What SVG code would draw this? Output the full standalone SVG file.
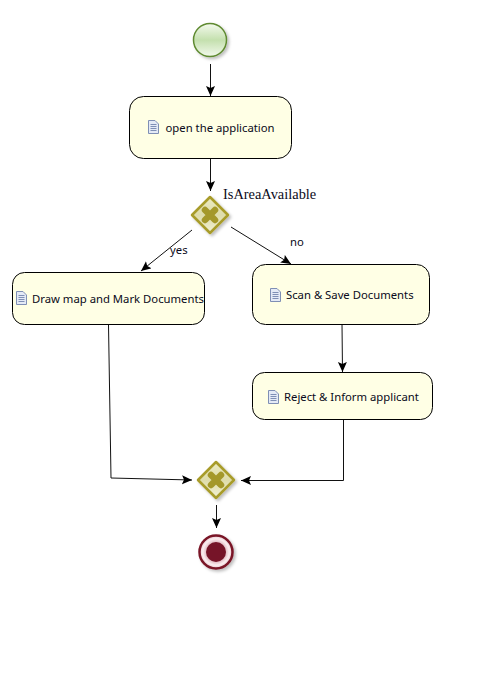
<svg xmlns="http://www.w3.org/2000/svg" width="479" height="677" viewBox="0 0 479 677">
<style>
.task{fill:#ffffe5;stroke:#000;stroke-width:1}
.lbl{font-family:"Noto Sans","Open Sans",sans-serif;font-size:11.300px;fill:#0a0a20}
.edge{fill:none;stroke:#111;stroke-width:1;marker-end:url(#arrow)}
.doc{fill:#e4eaf6;stroke:#7f8fb5;stroke-width:1}
.docl{stroke:#7f8fb5;stroke-width:1;fill:none}
.gw{stroke:#a89c2a;stroke-width:2.500;stroke-linejoin:round}
.x{stroke:#a4982a;stroke-width:6.500;stroke-linecap:round}
</style>
<defs>
<marker id="arrow" markerUnits="userSpaceOnUse" markerWidth="11" markerHeight="10" refX="10" refY="4.500" orient="auto"><path d="M0,0 L10,4.500 L0,9 L2,4.500 Z" fill="#000"/></marker>
<linearGradient id="startG" x1="0" y1="0" x2="0" y2="1"><stop offset="0" stop-color="#f4faee"/><stop offset="0.5" stop-color="#c4e0ae"/><stop offset="1" stop-color="#f2f9ec"/></linearGradient>
<radialGradient id="endG"><stop offset="0.5" stop-color="#d9a8b2"/><stop offset="0.8" stop-color="#fbeef0"/><stop offset="1" stop-color="#e6c6cc"/></radialGradient>
<linearGradient id="gwG" x1="0" y1="0" x2="0" y2="1"><stop offset="0" stop-color="#ecebc2"/><stop offset="0.5" stop-color="#dedcaa"/><stop offset="1" stop-color="#f2f1d2"/></linearGradient>
<filter id="sh" x="-30%" y="-30%" width="170%" height="170%"><feDropShadow dx="2" dy="2" stdDeviation="1.500" flood-color="#000" flood-opacity="0.250"/></filter>
<g id="docicon"><path class="doc" d="M0.500,0.500 H7 L10.500,4 V13.500 H0.500 Z"/><path class="docl" d="M2.500,4.500 H8.500 M2.500,6.500 H8.500 M2.500,8.500 H8.500 M2.500,10.500 H8.500"/></g>
</defs>
<rect width="479" height="677" fill="#fff"/>
<g id="connectors">
<path class="edge" d="M210.500,64 V96"/>
<path class="edge" d="M210.500,158 V191"/>
<path class="edge" d="M192,230 L141,271"/>
<path class="edge" d="M231,227 L291,264"/>
<path class="edge" d="M342,324 L342.500,372"/>
<path class="edge" d="M108.500,325 L111,478 L192,480"/>
<path class="edge" d="M343.500,420 V480.500 H241"/>
<path class="edge" d="M216.500,505 V528"/>
</g>
<g id="start"><circle cx="210" cy="40" r="16.500" fill="url(#startG)" stroke="#5f8a30" stroke-width="1.500" filter="url(#sh)"/></g>
<g id="task-open"><rect class="task" x="129.500" y="96.500" width="162" height="62" rx="14"/><use href="#docicon" x="148" y="120"/><text class="lbl" x="165.500" y="132">open the application</text></g>
<g id="gateway-split"><path class="gw" d="M210,197 L228,215 L210,233 L192,215 Z" fill="url(#gwG)" filter="url(#sh)"/><path class="x" d="M205,210 L215,220 M215,210 L205,220"/><text x="223" y="199" font-family="Liberation Serif,serif" font-size="14.400" fill="#0a0a20">IsAreaAvailable</text></g>
<text class="lbl" x="170" y="254">yes</text>
<text class="lbl" x="290" y="246">no</text>
<g id="task-draw"><rect class="task" x="12.500" y="272.500" width="192" height="52" rx="12"/><use href="#docicon" x="16" y="291"/><text class="lbl" x="32" y="303">Draw map and Mark Documents</text></g>
<g id="task-scan"><rect class="task" x="252.500" y="264.500" width="177" height="60" rx="13"/><use href="#docicon" x="270" y="288"/><text class="lbl" x="286" y="299">Scan &amp; Save Documents</text></g>
<g id="task-reject"><rect class="task" x="252.500" y="372.500" width="180" height="47" rx="12"/><use href="#docicon" x="268" y="390"/><text class="lbl" x="284" y="401">Reject &amp; Inform applicant</text></g>
<g id="gateway-join"><path class="gw" d="M216,462 L234,480 L216,498 L198,480 Z" fill="url(#gwG)" filter="url(#sh)"/><path class="x" d="M211,475 L221,485 M221,475 L211,485"/></g>
<g id="end"><circle cx="216" cy="552" r="16.500" fill="url(#endG)" stroke="#7a1528" stroke-width="2.500" filter="url(#sh)"/><circle cx="216" cy="552" r="10" fill="#761428"/></g>
</svg>
